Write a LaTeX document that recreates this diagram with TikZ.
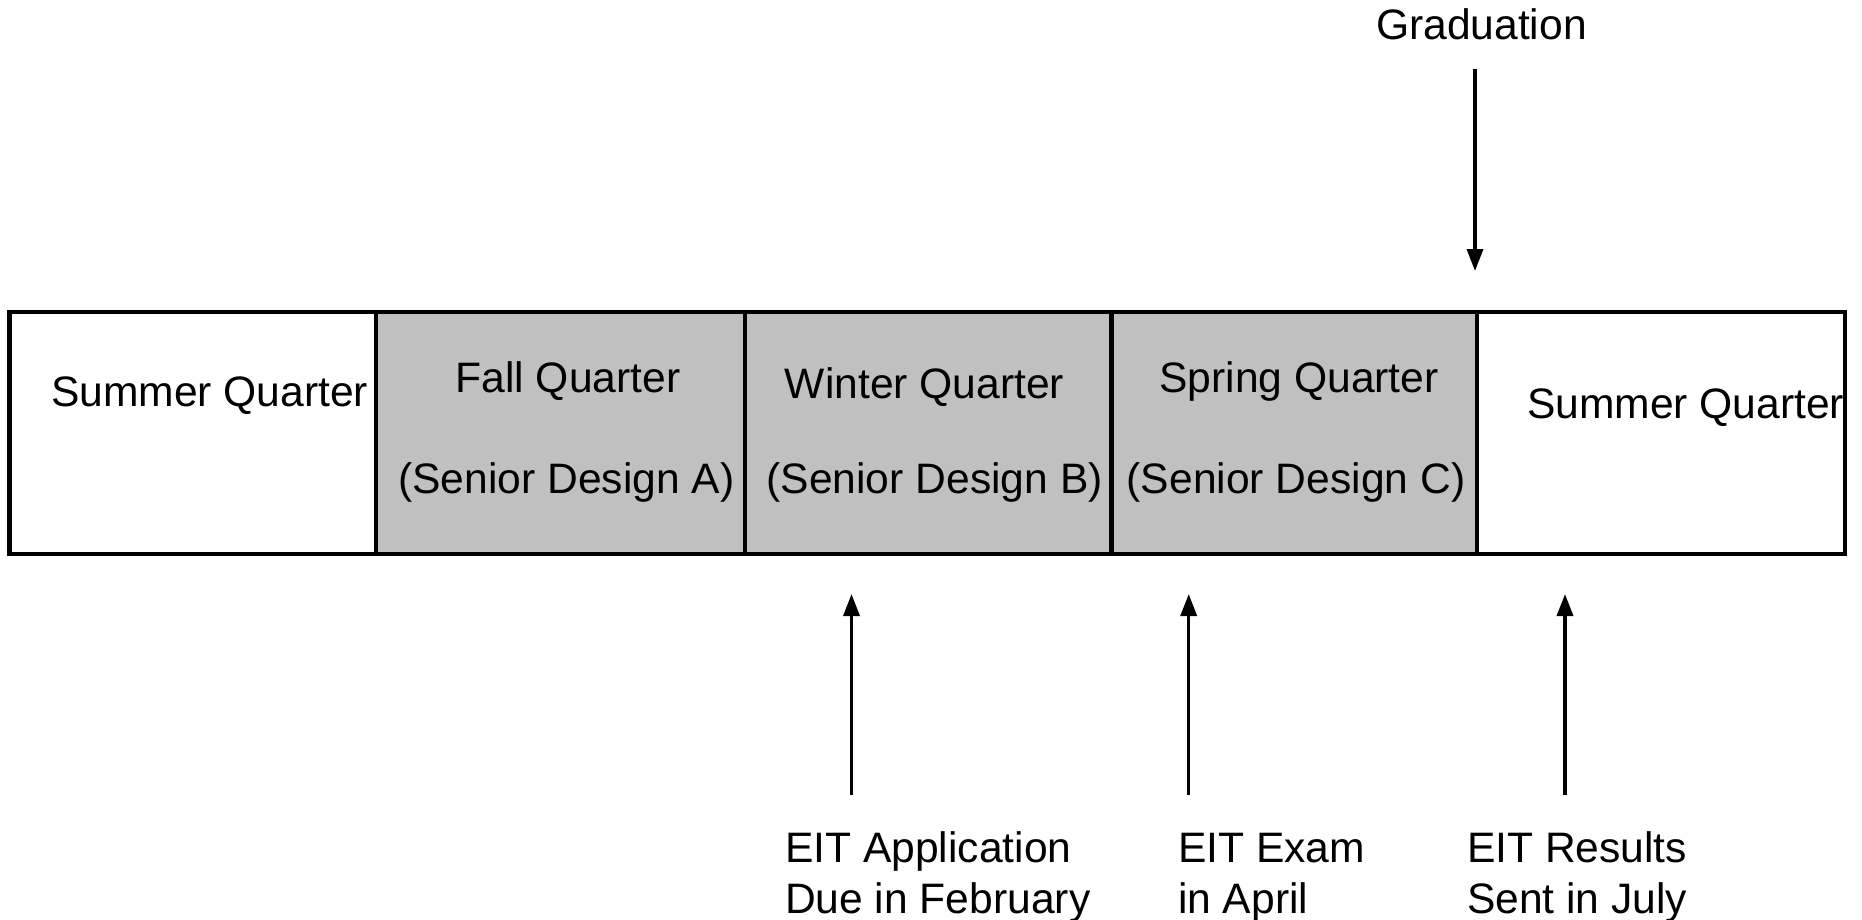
\documentclass[tikz,border=0pt]{standalone}
\usepackage{fontspec}
\setmainfont{Liberation Sans}
\usetikzlibrary{arrows.meta}
\definecolor{cellgray}{HTML}{C0C0C0}
\tikzset{
  lbl/.style={inner sep=0pt, outer sep=0pt, font=\fontsize{42.6}{51}\selectfont},
  cellbox/.style={draw=black, line width=4.2pt},
  arr/.style={line width=3.5pt, -{Triangle[length=22pt,width=16pt]}}
}
\begin{document}
\begin{tikzpicture}[x=1pt,y=-1pt]
\useasboundingbox (0,0) rectangle (1862,920);
% cells
\fill[cellgray] (376,312) rectangle (1477,554);
\draw[cellbox] (9.5,312) rectangle (1845,554);
\draw[cellbox] (376,312) -- (376,554);
\draw[cellbox] (745,312) -- (745,554);
\draw[cellbox] (1111.5,312) -- (1111.5,554);
\draw[cellbox] (1477,312) -- (1477,554);
% texts in cells
\node[lbl, anchor=base west] (sum1) at (51,406) {Summer Quarter};
\node[lbl, anchor=base] (fall) at (568,392) {Fall Quarter};
\node[lbl, anchor=base] (sda) at (566.4,493) {(Senior Design A)};
\node[lbl, anchor=base] (win) at (924.5,398) {Winter Quarter};
\node[lbl, anchor=base] (sdb) at (934.6,493) {(Senior Design B)};
\node[lbl, anchor=base] (spr) at (1299,392) {Spring Quarter};
\node[lbl, anchor=base] (sdc) at (1296,493) {(Senior Design C)};
\node[lbl, anchor=base west] (sum2) at (1527,418) {Summer Quarter};
% graduation
\node[lbl, anchor=base west] (grad) at (1376,40) {Graduation};
\coordinate (g1) at (1475,69);
\coordinate (g2) at (1475,271);
\draw[arr] (g1) -- (g2);
% bottom labels
\node[lbl, anchor=base west, align=left] (app) at (785,913) {EIT Application\\Due in February};
\node[lbl, anchor=base west, align=left] (exam) at (1178,913) {EIT Exam\\in April};
\node[lbl, anchor=base west, align=left] (res) at (1467,913) {EIT Results\\Sent in July};
\coordinate (a1) at (851.5,795);
\coordinate (a1t) at (851.5,594);
\coordinate (a2) at (1188.7,795);
\coordinate (a2t) at (1188.7,594);
\coordinate (a3) at (1565,795);
\coordinate (a3t) at (1565,594);
\draw[arr] (a1) -- (a1t);
\draw[arr] (a2) -- (a2t);
\draw[arr] (a3) -- (a3t);
\end{tikzpicture}
\end{document}
